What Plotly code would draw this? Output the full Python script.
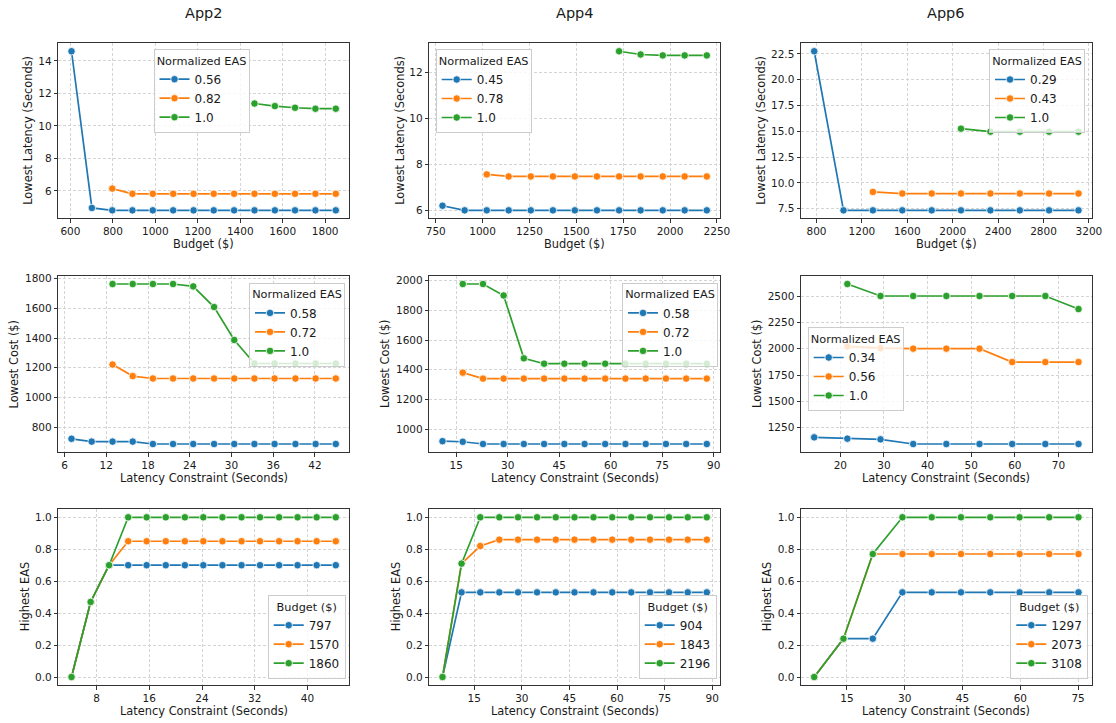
import plotly.graph_objects as go

FONT = "DejaVu Sans"
TXT = "#1a1a1a"
BLUE, ORANGE, GREEN = "#1f77b4", "#ff7f0e", "#2ca02c"
W, H = 1116, 723

# ---------------- Row 1: Lowest latency vs budget ----------------
app2_budget = [605, 701, 797, 892, 988, 1084, 1180, 1275, 1371, 1467, 1563, 1658, 1754, 1850]
app2_lat_a = [14.6, 4.95, 4.8, 4.8, 4.8, 4.8, 4.8, 4.8, 4.8, 4.8, 4.8, 4.8, 4.8, 4.8]
app2_lat_b = [6.14, 5.82, 5.82, 5.82, 5.82, 5.82, 5.82, 5.82, 5.82, 5.82, 5.82, 5.82]
app2_lat_c = [11.38, 11.22, 11.12, 11.06, 11.06]
app2_eas_names = ["0.56", "0.82", "1.0"]

app4_budget = [786, 904, 1022, 1139, 1257, 1375, 1492, 1610, 1728, 1843, 1961, 2078, 2196]
app4_lat_a = [6.2, 6.0, 6.0, 6.0, 6.0, 6.0, 6.0, 6.0, 6.0, 6.0, 6.0, 6.0, 6.0]
app4_lat_b = [7.56, 7.47, 7.47, 7.47, 7.47, 7.47, 7.47, 7.47, 7.47, 7.47, 7.47]
app4_lat_c = [12.9, 12.76, 12.72, 12.72, 12.72]
app4_eas_names = ["0.45", "0.78", "1.0"]

app6_budget = [780, 1038, 1297, 1556, 1815, 2073, 2332, 2591, 2849, 3108]
app6_lat_a = [22.76, 7.34, 7.34, 7.34, 7.34, 7.34, 7.34, 7.34, 7.34, 7.34]
app6_lat_b = [9.13, 8.97, 8.97, 8.97, 8.97, 8.97, 8.97, 8.97]
app6_lat_c = [15.26, 14.97, 14.97, 14.97, 14.97]
app6_eas_names = ["0.29", "0.43", "1.0"]

# ---------------- Row 2: Lowest cost vs latency constraint ----------------
app2_lc = [7.0, 9.9, 12.9, 15.8, 18.7, 21.6, 24.5, 27.5, 30.4, 33.3, 36.2, 39.2, 42.1, 45.0]
app2_cost_a = [722, 703, 703, 703, 687, 687, 687, 687, 687, 687, 687, 687, 687, 687]
app2_cost_b = [1222, 1144, 1128, 1128, 1128, 1128, 1128, 1128, 1128, 1128, 1128, 1128]
app2_cost_c = [1764, 1764, 1764, 1764, 1748, 1609, 1387, 1229, 1229, 1229, 1229, 1229]
app2_cost_names = ["0.58", "0.72", "1.0"]

app4_lc = [11.0, 16.9, 22.8, 28.8, 34.7, 40.6, 46.5, 52.4, 58.4, 64.3, 70.2, 76.1, 82.0, 88.0]
app4_cost_a = [921, 917, 902, 902, 902, 902, 902, 902, 902, 902, 902, 902, 902, 902]
app4_cost_b = [1381, 1341, 1341, 1341, 1341, 1341, 1341, 1341, 1341, 1341, 1341, 1341, 1341]
app4_cost_c = [1976, 1976, 1899, 1477, 1441, 1441, 1441, 1441, 1441, 1441, 1441, 1441, 1441]
app4_cost_names = ["0.58", "0.72", "1.0"]

app6_lc = [14.0, 21.6, 29.2, 36.7, 44.3, 51.9, 59.4, 67.0, 74.6]
app6_cost_a = [1158, 1146, 1139, 1095, 1095, 1095, 1095, 1095, 1095]
app6_cost_b = [2021, 2005, 2000, 2000, 2000, 1873, 1873, 1873]
app6_cost_c = [2614, 2500, 2500, 2500, 2500, 2500, 2500, 2376]
app6_cost_names = ["0.34", "0.56", "1.0"]

# ---------------- Row 3: Highest EAS vs latency constraint ----------------
app2_lc3 = [4.2, 7.1, 9.9, 12.8, 15.6, 18.5, 21.4, 24.2, 27.1, 30.0, 32.8, 35.7, 38.5, 41.4, 44.3]
app2_eas_a = [0.0, 0.47, 0.70, 0.70, 0.70, 0.70, 0.70, 0.70, 0.70, 0.70, 0.70, 0.70, 0.70, 0.70, 0.70]
app2_eas_b = [0.0, 0.47, 0.70, 0.85, 0.85, 0.85, 0.85, 0.85, 0.85, 0.85, 0.85, 0.85, 0.85, 0.85, 0.85]
app2_eas_c = [0.0, 0.47, 0.70, 1.0, 1.0, 1.0, 1.0, 1.0, 1.0, 1.0, 1.0, 1.0, 1.0, 1.0, 1.0]
app2_budget_names = ["797", "1570", "1860"]

app4_lc3 = [5.0, 11.0, 16.9, 22.9, 28.8, 34.8, 40.7, 46.6, 52.6, 58.5, 64.5, 70.4, 76.4, 82.3, 88.3]
app4_eas_a = [0.0, 0.53, 0.53, 0.53, 0.53, 0.53, 0.53, 0.53, 0.53, 0.53, 0.53, 0.53, 0.53, 0.53, 0.53]
app4_eas_b = [0.0, 0.71, 0.82, 0.86, 0.86, 0.86, 0.86, 0.86, 0.86, 0.86, 0.86, 0.86, 0.86, 0.86, 0.86]
app4_eas_c = [0.0, 0.71, 1.0, 1.0, 1.0, 1.0, 1.0, 1.0, 1.0, 1.0, 1.0, 1.0, 1.0, 1.0, 1.0]
app4_budget_names = ["904", "1843", "2196"]

app6_lc3 = [6.5, 14.1, 21.7, 29.4, 37.0, 44.6, 52.2, 59.8, 67.5, 75.1]
app6_eas_a = [0.0, 0.24, 0.24, 0.53, 0.53, 0.53, 0.53, 0.53, 0.53, 0.53]
app6_eas_b = [0.0, 0.24, 0.77, 0.77, 0.77, 0.77, 0.77, 0.77, 0.77, 0.77]
app6_eas_c = [0.0, 0.24, 0.77, 1.0, 1.0, 1.0, 1.0, 1.0, 1.0, 1.0]
app6_budget_names = ["1297", "2073", "3108"]

titles = ["App2", "App4", "App6"]
xlabels = ["Budget ($)", "Latency Constraint (Seconds)", "Latency Constraint (Seconds)"]
ylabels = ["Lowest Latency (Seconds)", "Lowest Cost ($)", "Highest EAS"]
legend_titles = ["Normalized EAS", "Normalized EAS", "Budget ($)"]

# layout geometry (pixels)
col_px = [(58.3, 349.0), (429.3, 720.0), (801.0, 1091.7)]
row_px = [(43.3, 218.3), (276.0, 452.0), (509.3, 685.0)]

panels = [
    # row 1
    dict(series=[(app2_budget, app2_lat_a), (app2_budget[2:], app2_lat_b), (app2_budget[9:], app2_lat_c)],
         names=app2_eas_names, xd=200, yd=2, yf="d", xf="d",
         leg=dict(x=201.5, y=49, xa="center", ya="top")),
    dict(series=[(app4_budget, app4_lat_a), (app4_budget[2:], app4_lat_b), (app4_budget[8:], app4_lat_c)],
         names=app4_eas_names, xd=250, yd=2, yf="d", xf="d",
         leg=dict(x=435.7, y=49.3, xa="left", ya="top")),
    dict(series=[(app6_budget, app6_lat_a), (app6_budget[2:], app6_lat_b), (app6_budget[5:], app6_lat_c)],
         names=app6_eas_names, xd=400, yd=2.5, yf=".1f", xf="d",
         leg=dict(x=1085, y=49.3, xa="right", ya="top")),
    # row 2
    dict(series=[(app2_lc, app2_cost_a), (app2_lc[2:], app2_cost_b), (app2_lc[2:], app2_cost_c)],
         names=app2_cost_names, xd=6, yd=200, yf="d", xf="d",
         leg=dict(x=345, y=282.7, xa="right", ya="top")),
    dict(series=[(app4_lc, app4_cost_a), (app4_lc[1:], app4_cost_b), (app4_lc[1:], app4_cost_c)],
         names=app4_cost_names, xd=15, yd=200, yf="d", xf="d",
         leg=dict(x=718, y=282.7, xa="right", ya="top")),
    dict(series=[(app6_lc, app6_cost_a), (app6_lc[1:], app6_cost_b), (app6_lc[1:], app6_cost_c)],
         names=app6_cost_names, xd=10, yd=250, yf="d", xf="d",
         leg=dict(x=807.7, y=327.3, xa="left", ya="top")),
    # row 3
    dict(series=[(app2_lc3, app2_eas_a), (app2_lc3, app2_eas_b), (app2_lc3, app2_eas_c)],
         names=app2_budget_names, xd=8, yd=0.2, yf=".1f", xf="d",
         leg=dict(x=345.7, y=679, xa="right", ya="bottom")),
    dict(series=[(app4_lc3, app4_eas_a), (app4_lc3, app4_eas_b), (app4_lc3, app4_eas_c)],
         names=app4_budget_names, xd=15, yd=0.2, yf=".1f", xf="d",
         leg=dict(x=716.7, y=679, xa="right", ya="bottom")),
    dict(series=[(app6_lc3, app6_eas_a), (app6_lc3, app6_eas_b), (app6_lc3, app6_eas_c)],
         names=app6_budget_names, xd=15, yd=0.2, yf=".1f", xf="d",
         leg=dict(x=1088.3, y=679, xa="right", ya="bottom")),
]

ytitle_x = [[28, 400, 761], [13.5, 385, 757], [25, 396, 767]]
xtitle_y = [244, 478, 711]

colors = [BLUE, ORANGE, GREEN]
fig = go.Figure()
layout = {}
annotations = []

for idx, p in enumerate(panels):
    r, c = divmod(idx, 3)
    n = idx + 1
    xs = "x" if n == 1 else f"x{n}"
    ys = "y" if n == 1 else f"y{n}"
    lg = "legend" if n == 1 else f"legend{n}"
    for k, (xv, yv) in enumerate(p["series"]):
        fig.add_trace(go.Scatter(
            x=xv, y=yv, name=p["names"][k], mode="lines+markers",
            line=dict(color=colors[k], width=1.7),
            marker=dict(color=colors[k], size=7.5, line=dict(color="white", width=0.8)),
            xaxis=xs, yaxis=ys, legend=lg, showlegend=True))
    allx = [v for xv, _ in p["series"] for v in xv]
    ally = [v for _, yv in p["series"] for v in yv]
    xmin, xmax = min(allx), max(allx)
    ymin, ymax = min(ally), max(ally)
    xpad = 0.05 * (xmax - xmin)
    ypad = 0.05 * (ymax - ymin)
    x0, x1 = col_px[c]
    y0, y1 = row_px[r]
    common = dict(showline=True, mirror=True, linecolor="#333333", linewidth=1,
                  ticks="outside", ticklen=3.5, tickwidth=1, tickcolor="#333333",
                  showgrid=True, gridcolor="#d4d4d4", griddash="3px,2px", gridwidth=0.8,
                  zeroline=False, automargin=False,
                  tickfont=dict(family=FONT, size=10.5, color=TXT))
    layout["xaxis" if n == 1 else f"xaxis{n}"] = dict(
        domain=[x0 / W, x1 / W], anchor=ys, range=[xmin - xpad, xmax + xpad],
        tick0=0, dtick=p["xd"], tickformat=p["xf"], **common)
    layout["yaxis" if n == 1 else f"yaxis{n}"] = dict(
        domain=[1 - y1 / H, 1 - y0 / H], anchor=xs, range=[ymin - ypad, ymax + ypad],
        tick0=0, dtick=p["yd"], tickformat=p["yf"], **common)
    L = p["leg"]
    layout[lg] = dict(
        x=L["x"] / W, y=1 - L["y"] / H, xanchor=L["xa"], yanchor=L["ya"],
        xref="paper", yref="paper",
        bgcolor="rgba(255,255,255,0.8)", bordercolor="#cccccc", borderwidth=1,
        font=dict(family=FONT, size=12, color=TXT),
        title=dict(text=legend_titles[r], side="top center", font=dict(family=FONT, size=11.3, color=TXT)),
        itemwidth=30, tracegroupgap=0)
    # axis titles
    annotations.append(dict(text=xlabels[r], x=(x0 + x1) / 2 / W, y=1 - xtitle_y[r] / H,
                            xref="paper", yref="paper", showarrow=False, xanchor="center", yanchor="middle",
                            font=dict(family=FONT, size=11.4, color=TXT)))
    annotations.append(dict(text=ylabels[r], x=ytitle_x[r][c] / W, y=1 - (y0 + y1) / 2 / H,
                            xref="paper", yref="paper", showarrow=False, xanchor="center", yanchor="middle",
                            textangle=-90, font=dict(family=FONT, size=11.4, color=TXT)))
    if r == 0:
        annotations.append(dict(text=titles[c], x=(x0 + x1) / 2 / W, y=1 - 13 / H,
                                xref="paper", yref="paper", showarrow=False, xanchor="center", yanchor="middle",
                                font=dict(family=FONT, size=14.5, color=TXT)))

fig.update_layout(
    width=W, height=H, margin=dict(l=0, r=0, t=0, b=0, autoexpand=False),
    paper_bgcolor="white", plot_bgcolor="white",
    font=dict(family=FONT, color=TXT),
    annotations=annotations, **layout)

fig.write_html("out.html", config={"displayModeBar": False},
               post_script="document.body.style.margin='0';document.body.style.padding='0';"
                           "document.documentElement.style.overflow='hidden';")
